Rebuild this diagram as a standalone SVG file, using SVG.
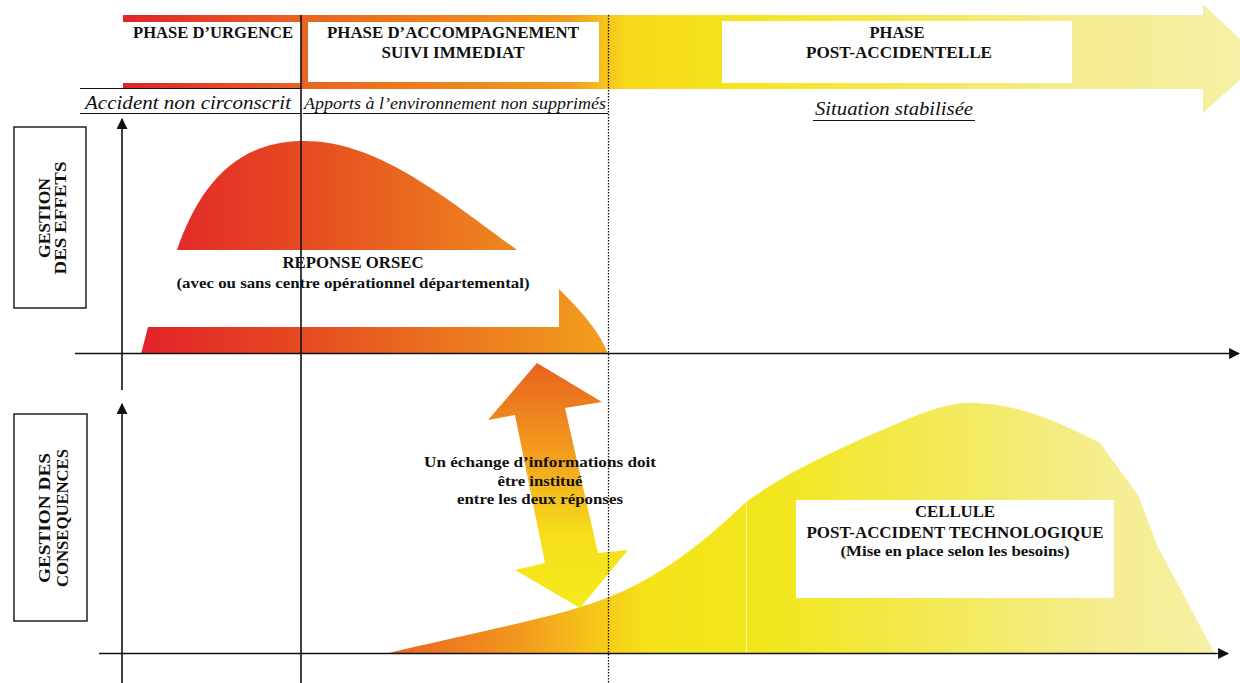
<svg xmlns="http://www.w3.org/2000/svg" width="1240" height="683" viewBox="0 0 1240 683">
<defs>
<style>
.b{font-family:"Liberation Serif","Times New Roman",serif;font-weight:bold;fill:#111;text-anchor:middle}
.i{font-family:"Liberation Serif","Times New Roman",serif;font-style:italic;fill:#111;text-anchor:middle}
.ax{stroke:#111;stroke-width:1.6;fill:none}
.thin{stroke:#111;stroke-width:1.2;fill:none}
.dot{stroke:#111;stroke-width:1.3;stroke-dasharray:1.5 1.5;fill:none}
.box{fill:#fff;stroke:#111;stroke-width:1.4}
</style>
<linearGradient id="gBan" gradientUnits="userSpaceOnUse" x1="123" y1="0" x2="1240" y2="0">
<stop offset="0" stop-color="#e2232a"/>
<stop offset="0.16" stop-color="#e8641f"/>
<stop offset="0.4" stop-color="#f29c1e"/>
<stop offset="0.45" stop-color="#f7d81a"/>
<stop offset="0.55" stop-color="#f4e51b"/>
<stop offset="0.85" stop-color="#f4ec8e"/>
<stop offset="1" stop-color="#f6f0a6"/>
</linearGradient>
<linearGradient id="gOrsec" gradientUnits="userSpaceOnUse" x1="141" y1="0" x2="608" y2="0">
<stop offset="0" stop-color="#e3222a"/>
<stop offset="0.34" stop-color="#e54a21"/>
<stop offset="0.7" stop-color="#ec7a1f"/>
<stop offset="1" stop-color="#f29f1e"/>
</linearGradient>
<linearGradient id="gDbl" gradientUnits="userSpaceOnUse" x1="0" y1="363" x2="0" y2="608">
<stop offset="0" stop-color="#e8621f"/>
<stop offset="0.35" stop-color="#f29a1e"/>
<stop offset="0.7" stop-color="#f6df1a"/>
<stop offset="1" stop-color="#f4ea1c"/>
</linearGradient>
<linearGradient id="gPost" gradientUnits="userSpaceOnUse" x1="385" y1="0" x2="1240" y2="0">
<stop offset="0" stop-color="#e8601f"/>
<stop offset="0.16" stop-color="#f29a1f"/>
<stop offset="0.25" stop-color="#f7c81a"/>
<stop offset="0.31" stop-color="#f5e31a"/>
<stop offset="0.45" stop-color="#f2e61c"/>
<stop offset="0.84" stop-color="#f4ed90"/>
<stop offset="1" stop-color="#f6f1a8"/>
</linearGradient>
<marker id="ah" viewBox="0 0 10 10" refX="9" refY="5" markerWidth="11" markerHeight="11" markerUnits="userSpaceOnUse" orient="auto">
<path d="M0,0 L10,5 L0,10 Z" fill="#111"/>
</marker>
</defs>
<rect width="1240" height="683" fill="#fff"/>

<g id="banner">
<path d="M123,15 L1203,15 L1203,4 L1262,60 L1203,113 L1203,89 L123,89 Z" fill="url(#gBan)"/>
<rect x="123" y="22" width="178" height="61" fill="#fff"/>
<rect x="308" y="22" width="291" height="60" fill="#fff"/>
<rect x="722" y="21" width="350" height="62" fill="#fff"/>
</g>

<g id="phase-urgence">
<text class="b" x="213" y="38" font-size="17" textLength="160" lengthAdjust="spacingAndGlyphs">PHASE D’URGENCE</text>
</g>
<g id="phase-accompagnement">
<text class="b" x="453" y="38" font-size="17" textLength="252" lengthAdjust="spacingAndGlyphs">PHASE D’ACCOMPAGNEMENT</text>
<text class="b" x="453" y="58" font-size="17" textLength="143" lengthAdjust="spacingAndGlyphs">SUIVI IMMEDIAT</text>
</g>
<g id="phase-post">
<text class="b" x="897" y="38" font-size="17" textLength="55" lengthAdjust="spacingAndGlyphs">PHASE</text>
<text class="b" x="899" y="58" font-size="17" textLength="186" lengthAdjust="spacingAndGlyphs">POST-ACCIDENTELLE</text>
</g>

<g id="sub-labels">
<text class="i" x="188" y="109" font-size="19" textLength="206" lengthAdjust="spacingAndGlyphs">Accident non circonscrit</text>
<text class="i" x="455" y="109" font-size="16" textLength="302" lengthAdjust="spacingAndGlyphs">Apports à l’environnement non supprimés</text>
<text class="i" x="894" y="115" font-size="18" textLength="158" lengthAdjust="spacingAndGlyphs">Situation stabilisée</text>
<line class="thin" x1="80" y1="88.5" x2="301" y2="88.5"/>
<line class="thin" x1="80" y1="113.5" x2="301" y2="113.5"/>
<line class="thin" x1="303" y1="113.5" x2="608" y2="113.5"/>
<line class="thin" x1="813" y1="120.5" x2="975" y2="120.5"/>
</g>

<g id="orsec">
<path d="M177,250 C198,190 232,143 300,141 C375,139 442,195 517,250 Z" fill="url(#gOrsec)"/>
<path d="M141,354 L148,327 L559,327 L559,289 C582,312 600,332 608,354 Z" fill="url(#gOrsec)"/>
<text class="b" x="353" y="268" font-size="17" textLength="141" lengthAdjust="spacingAndGlyphs">REPONSE ORSEC</text>
<text class="b" x="353" y="288" font-size="14.5" textLength="353" lengthAdjust="spacingAndGlyphs">(avec ou sans centre opérationnel départemental)</text>
</g>

<g id="cellule">
<path d="M385,654 C460,636 540,620 580,607 C640,590 690,556 746,502 C790,470 840,448 910,418 C940,406 960,402 975,403 C1010,405 1040,412 1100,443 L1138,495 L1157,545 L1215,654 Z" fill="url(#gPost)"/>
<line x1="746.5" y1="502" x2="746.5" y2="653" stroke="#fff" stroke-opacity="0.55" stroke-width="1"/>
<rect x="796" y="500" width="318" height="98" fill="#fff"/>
<text class="b" x="955" y="517" font-size="16.5" textLength="80" lengthAdjust="spacingAndGlyphs">CELLULE</text>
<text class="b" x="955" y="538" font-size="16.5" textLength="297" lengthAdjust="spacingAndGlyphs">POST-ACCIDENT TECHNOLOGIQUE</text>
<text class="b" x="955" y="556" font-size="14.5" textLength="229" lengthAdjust="spacingAndGlyphs">(Mise en place selon les besoins)</text>
</g>

<g id="gestion-effets">
<rect class="box" x="14" y="127" width="72" height="181"/>
<g transform="translate(0,218) rotate(-90)">
<text class="b" x="0" y="50" font-size="16" textLength="80" lengthAdjust="spacingAndGlyphs">GESTION</text>
<text class="b" x="0" y="66" font-size="16" textLength="113" lengthAdjust="spacingAndGlyphs">DES EFFETS</text>
</g>
</g>

<g id="gestion-consequences">
<rect class="box" x="14" y="414" width="73" height="207"/>
<g transform="translate(0,518) rotate(-90)">
<text class="b" x="0" y="50" font-size="16" textLength="130" lengthAdjust="spacingAndGlyphs">GESTION DES</text>
<text class="b" x="0" y="68" font-size="16" textLength="138" lengthAdjust="spacingAndGlyphs">CONSEQUENCES</text>
</g>
</g>

<g id="echange">
<path d="M537,363 L602,402 L565,408 L598,553 L628,550 L580,608 L515,570 L545,563 L515,415 L488,420 Z" fill="url(#gDbl)"/>
<text class="b" x="540" y="467" font-size="15" textLength="232" lengthAdjust="spacingAndGlyphs">Un  échange d’informations doit</text>
<text class="b" x="540" y="486" font-size="15" textLength="85" lengthAdjust="spacingAndGlyphs">être institué</text>
<text class="b" x="540" y="504" font-size="15" textLength="166" lengthAdjust="spacingAndGlyphs">entre les deux réponses</text>
</g>

<g id="connectors">
<line class="ax" x1="301" y1="15" x2="301" y2="683"/>
<line class="dot" x1="608.5" y1="15" x2="608.5" y2="683"/>
<line class="ax" x1="122" y1="390" x2="122" y2="119" marker-end="url(#ah)"/>
<line class="ax" x1="122" y1="683" x2="122" y2="404" marker-end="url(#ah)"/>
<line class="ax" x1="75" y1="353.5" x2="1239" y2="353.5" marker-end="url(#ah)"/>
<line class="ax" x1="99" y1="653.5" x2="1228" y2="653.5" marker-end="url(#ah)"/>
</g>
</svg>
